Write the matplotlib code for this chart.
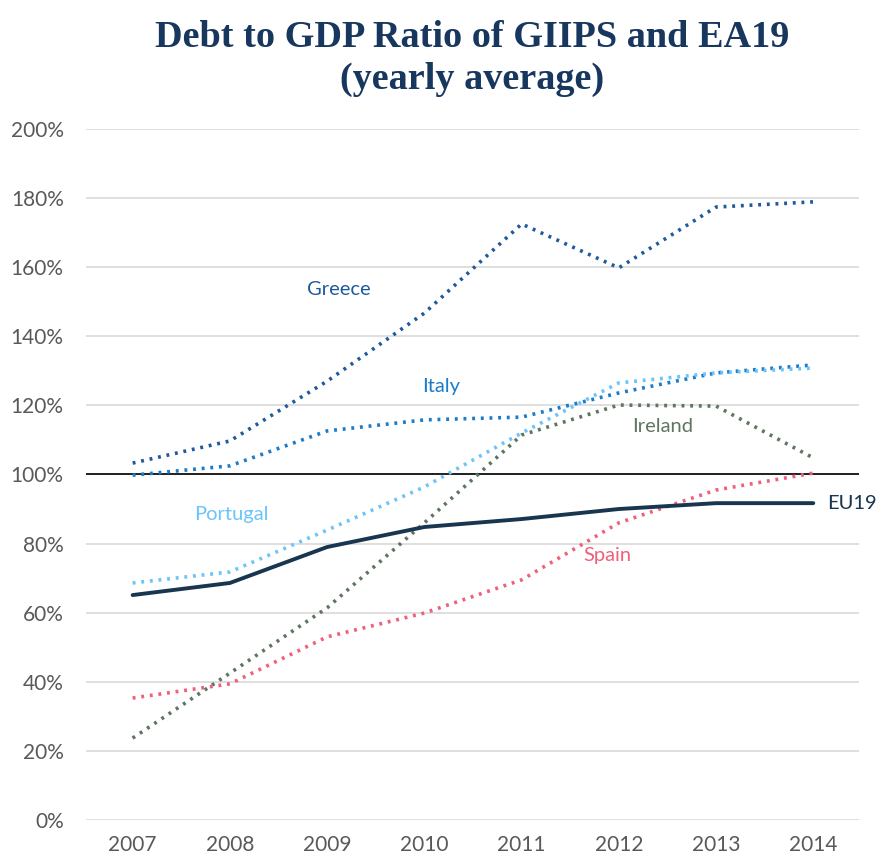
import numpy as np
import matplotlib.pyplot as plt

years = ['2007', '2008', '2009', '2010', '2011', '2012', '2013', '2014']

greece = [103.3, 109.7, 127.0, 146.7, 172.5, 159.8, 177.4, 178.9]
italy = [99.8, 102.5, 112.6, 115.8, 116.6, 123.6, 129.4, 131.7]
portugal = [68.6, 71.8, 83.9, 96.4, 112.0, 126.5, 129.4, 130.8]
ireland = [23.7, 42.5, 61.4, 86.0, 111.4, 120.1, 119.8, 104.8]
spain = [35.3, 39.4, 53.0, 59.9, 69.5, 86.0, 95.5, 100.4]
eu19 = [65.1, 68.6, 79.0, 84.8, 87.1, 90.0, 91.7, 91.7]

plt.rcParams['font.family'] = ['Lato', 'DejaVu Sans']

fig = plt.figure(figsize=(8.81, 8.58), dpi=100)
ax = fig.add_axes([0.0976, 0.0443, 0.8774, 0.8054])

x = np.arange(len(years))
dot = (0, (0.8, 1.6))
ax.plot(x, np.array(greece) / 100, color='#1F5A9C', lw=2.6, ls=dot)
ax.plot(x, np.array(italy) / 100, color='#1B7CC9', lw=2.6, ls=dot)
ax.plot(x, np.array(portugal) / 100, color='#6CC4FA', lw=2.6, ls=dot)
ax.plot(x, np.array(ireland) / 100, color='#5E765F', lw=2.6, ls=dot)
ax.plot(x, np.array(spain) / 100, color='#F0607A', lw=2.6, ls=dot)
ax.plot(x, np.array(eu19) / 100, color='#18364F', lw=2.8, solid_capstyle='round')

ax.axhline(1.0, color='black', lw=1.2, zorder=1)

lab = 14.5
ax.text(2.12, 1.535, 'Greece', color='#1F5A9C', fontsize=lab, ha='center', va='center')
ax.text(3.17, 1.255, 'Italy', color='#1B7CC9', fontsize=lab, ha='center', va='center')
ax.text(5.45, 1.14, 'Ireland', color='#5E765F', fontsize=lab, ha='center', va='center')
ax.text(1.02, 0.885, 'Portugal', color='#6CC4FA', fontsize=lab, ha='center', va='center')
ax.text(4.88, 0.765, 'Spain', color='#F0607A', fontsize=lab, ha='center', va='center')
ax.text(7.14, 0.917, 'EU19', color='#18364F', fontsize=lab, ha='left', va='center')

ax.set_xlim(-0.48, 7.47)
ax.set_ylim(0, 2.0)
ax.set_yticks(np.arange(0, 2.01, 0.2))
ax.set_yticklabels(['%d%%' % round(v * 100) for v in np.arange(0, 2.01, 0.2)])
ax.set_xticks(x)
ax.set_xticklabels(years)
ax.tick_params(axis='both', length=0, labelsize=15, labelcolor='#595959')
ax.tick_params(axis='y', pad=16)
ax.tick_params(axis='x', pad=11)
ax.grid(axis='y', color='#D9D9D9', lw=1.2)
ax.set_axisbelow(True)
for s in ax.spines.values():
    s.set_visible(False)

fig.text(0.536, 0.956, 'Debt to GDP Ratio of GIIPS and EA19', fontsize=27.5,
         fontweight='bold', family='Liberation Serif', color='#17375E',
         ha='center', va='center')
fig.text(0.536, 0.907, '(yearly average)', fontsize=27.5,
         fontweight='bold', family='Liberation Serif', color='#17375E',
         ha='center', va='center')

fig.savefig('out.png', dpi=100)
